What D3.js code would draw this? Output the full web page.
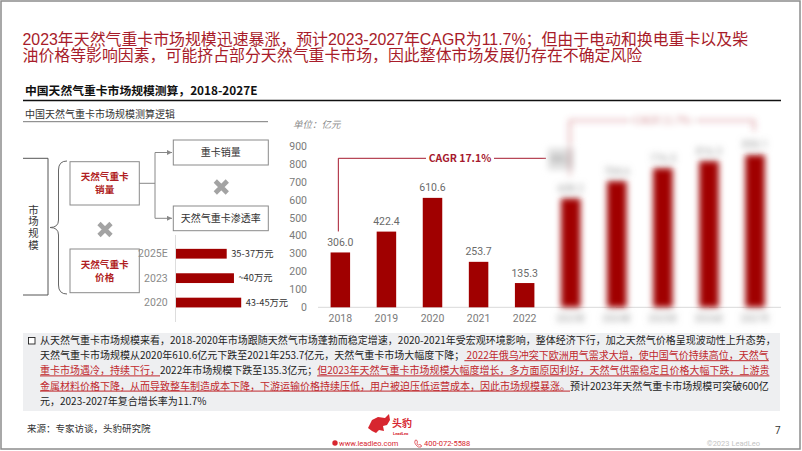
<!DOCTYPE html>
<html>
<head>
<meta charset="utf-8">
<style>
  body { margin: 0; background: #fff; position: relative; }
  svg { display: block; font-family: "Noto Sans CJK SC", "Noto Sans", sans-serif; }
  .title { position: absolute; left: 22.5px; top: 31.5px; font-family: "Liberation Sans", "Noto Sans CJK SC", sans-serif;
           font-size: 15.9px; line-height: 16.3px; color: #a81c2a; white-space: nowrap; }
</style>
</head>
<body>
<svg width="802" height="451"></svg>
<script src="https://d3js.org/d3.v7.min.js"></script>
<script>
// ---- data ----
const years = ["2018", "2019", "2020", "2021", "2022", "2023E", "2024E", "2025E", "2026E", "2027E"];
const marketSize = [306.0, 422.4, 610.6, 253.7, 135.3, 608.2, 704.6, 776.5, 816.3, 850.1];
const yTicks = [0, 100, 200, 300, 400, 500, 600, 700, 800, 900];
const priceYears = ["2025E", "2023", "2020"];
const priceValues = [35, 40, 45];
const priceLabels = ["35-37万元", "~40万元", "43-45万元"];

const titleLines = [
  "2023年天然气重卡市场规模迅速暴涨，预计2023-2027年CAGR为11.7%；但由于电动和换电重卡以及柴",
  "油价格等影响因素，可能挤占部分天然气重卡市场，因此整体市场发展仍存在不确定风险"
];
// [text, highlighted]
const noteLines = [
  [["从天然气重卡市场规模来看，2018-2020年市场跟随天然气市场蓬勃而稳定增速，2020-2021年受宏观环境影响，整体经济下行，加之天然气价格呈现波动性上升态势，", 0]],
  [["天然气重卡市场规模从2020年610.6亿元下跌至2021年253.7亿元，天然气重卡市场大幅度下降；", 0], [" 2022年俄乌冲突下欧洲用气需求大增，使中国气价持续高位，天然气", 1]],
  [["重卡市场遇冷，持续下行，", 1], ["2022年市场规模下跌至135.3亿元；", 0], ["但2023年天然气重卡市场规模大幅度增长，多方面原因利好，天然气供需稳定且价格大幅下跌，上游贵", 1]],
  [["金属材料价格下降，从而导致整车制造成本下降，下游运输价格持续压低，用户被迫压低运营成本，因此市场规模暴涨。", 1], ["预计2023年天然气重卡市场规模可突破600亿", 0]],
  [["元，2023-2027年复合增长率为11.7%", 0]]
];

const barRed = "#a00000";
const grey = "#7a7a7a";

const svg = d3.select("svg");

const defs = svg.append("defs");
defs.append("filter").attr("id", "blur")
  .attr("filterUnits", "userSpaceOnUse")
  .attr("x", 520).attr("y", 95).attr("width", 280).attr("height", 240)
  .append("feGaussianBlur").attr("stdDeviation", 3);
defs.append("marker").attr("id", "arr")
  .attr("viewBox", "0 0 6 6").attr("refX", 6).attr("refY", 3)
  .attr("markerWidth", 5).attr("markerHeight", 5).attr("orient", "auto")
  .append("path").attr("d", "M0,0L6,3L0,6Z").attr("fill", "#888");

// page frame
svg.append("rect").attr("x", 1).attr("y", 1).attr("width", 799).attr("height", 448)
  .attr("fill", "#fff").attr("stroke", "#8c8c8c").attr("stroke-width", 1.5);

// title, tight two-line block
d3.select("body").append("div").attr("class", "title")
  .html(titleLines.join("<br>"));

// section header
svg.append("text").attr("x", 25).attr("y", 95)
  .attr("font-size", 11.8).attr("font-weight", "bold").attr("fill", "#111")
  .text("中国天然气重卡市场规模测算，2018-2027E");
svg.append("line").attr("x1", 23).attr("x2", 781).attr("y1", 100.5).attr("y2", 100.5)
  .attr("stroke", "#111").attr("stroke-width", 1.4);

// ---- left: logic diagram ----
const dg = svg.append("g");
dg.append("text").attr("x", 25).attr("y", 118).attr("font-size", 10).attr("fill", "#333")
  .text("中国天然气重卡市场规模测算逻辑");
dg.append("line").attr("x1", 23).attr("x2", 268).attr("y1", 121.7).attr("y2", 121.7)
  .attr("stroke", "#555").attr("stroke-width", 0.8);

dg.append("path").attr("d", "M23,158.3H48V295H23")
  .attr("fill", "none").attr("stroke", "#555").attr("stroke-width", 1);
dg.append("path").attr("d", "M67,161Q58.5,161 58.5,170V220Q58.5,227.5 50,227.5Q58.5,227.5 58.5,235V285Q58.5,294 67,294")
  .attr("fill", "none").attr("stroke", "#666").attr("stroke-width", 1);
dg.append("text").attr("x", 33.5).attr("y", 204.5)
  .style("writing-mode", "vertical-rl").attr("letter-spacing", 1.3)
  .attr("font-size", 10.4).attr("fill", "#333").text("市场规模");

const boxes = [
  { x: 70, y: 161.7, w: 69.3, h: 43.3, lines: ["天然气重卡", "销量"], red: true },
  { x: 70, y: 249, w: 69.3, h: 43.7, lines: ["天然气重卡", "价格"], red: true },
  { x: 173.3, y: 140, w: 95, h: 25, lines: ["重卡销量"], red: false },
  { x: 173.3, y: 206, w: 95, h: 24.7, lines: ["天然气重卡渗透率"], red: false }
];
boxes.forEach(b => {
  dg.append("rect").attr("x", b.x).attr("y", b.y).attr("width", b.w).attr("height", b.h)
    .attr("fill", "#fff").attr("stroke", "#8a8a8a").attr("stroke-width", 1);
  const cy = b.y + b.h / 2;
  b.lines.forEach((t, i) => {
    dg.append("text").attr("x", b.x + b.w / 2)
      .attr("y", cy + (i - (b.lines.length - 1) / 2) * 13 + 3.5)
      .attr("text-anchor", "middle").attr("font-size", b.red ? 9.6 : 10)
      .attr("font-weight", b.red ? "bold" : "normal")
      .attr("fill", b.red ? "#b01e23" : "#333").text(t);
  });
});
dg.append("path").attr("d", "M139.3,183.3H155M155,152.5V218.3")
  .attr("fill", "none").attr("stroke", "#888").attr("stroke-width", 1);
[152.5, 218.3].forEach(y => {
  dg.append("line").attr("x1", 155).attr("x2", 172).attr("y1", y).attr("y2", y)
    .attr("stroke", "#888").attr("stroke-width", 1).attr("marker-end", "url(#arr)");
});
[[105, 229.5], [221.3, 187]].forEach(([cx, cy]) => {
  dg.append("path").attr("d", `M${cx - 6},${cy - 6}L${cx + 6},${cy + 6}M${cx + 6},${cy - 6}L${cx - 6},${cy + 6}`)
    .attr("stroke", "#a3a3a3").attr("stroke-width", 4.6).attr("stroke-linecap", "butt");
});

// price mini bars
const px = d3.scaleLinear().domain([0, 45]).range([175.5, 240.7]);
const py = d3.scaleBand().domain(priceYears).range([234.2, 322.1]).padding(0.6);
dg.append("line").attr("x1", 175.5).attr("x2", 175.5).attr("y1", 235).attr("y2", 322)
  .attr("stroke", "#ddd").attr("stroke-width", 1);
dg.selectAll(".pbar").data(priceValues).enter().append("rect")
  .attr("x", px(0) + 0.5).attr("y", (d, i) => py(priceYears[i]))
  .attr("width", d => px(d) - px(0)).attr("height", py.bandwidth())
  .attr("fill", barRed);
dg.selectAll(".pyr").data(priceYears).enter().append("text")
  .attr("x", 167.7).attr("y", d => py(d) + py.bandwidth() / 2).attr("dy", "0.35em")
  .attr("text-anchor", "end").attr("font-size", 10.5).attr("fill", "#8a8a8a")
  .attr("font-family", "Roboto, sans-serif").text(d => d);
dg.selectAll(".plab").data(priceValues).enter().append("text")
  .attr("x", d => px(d) + 5).attr("y", (d, i) => py(priceYears[i]) + py.bandwidth() / 2)
  .attr("dy", "0.35em").attr("font-size", 9.3).attr("fill", "#333")
  .text((d, i) => priceLabels[i]);

// ---- right: bar chart ----
const x = d3.scalePoint().domain(years).range([317.3, 778.1]).padding(0.5);
const y = d3.scaleLinear().domain([0, 900]).range([307.3, 146]);
const barW = 19.5;
const nSharp = 5;

svg.append("text").attr("x", 293).attr("y", 128).attr("font-size", 9.5)
  .attr("font-style", "italic").attr("fill", "#8a8a8a").text("单位：亿元");

const yAxis = svg.append("g").attr("transform", "translate(307,0)")
  .call(d3.axisLeft(y).tickValues(yTicks).tickSize(0).tickPadding(0));
yAxis.select(".domain").remove();
yAxis.selectAll("text").attr("font-size", 10.5).attr("fill", grey)
  .attr("font-family", "Roboto, sans-serif");

svg.append("line").attr("x1", 318).attr("x2", 781).attr("y1", y(0)).attr("y2", y(0))
  .attr("stroke", "#d9d9d9").attr("stroke-width", 1);

function drawBars(g, idx) {
  g.selectAll(".bar").data(idx).enter().append("rect")
    .attr("x", i => x(years[i]) - barW / 2).attr("y", i => y(marketSize[i]))
    .attr("width", barW).attr("height", i => y(0) - y(marketSize[i]))
    .attr("fill", barRed);
  g.selectAll(".val").data(idx).enter().append("text")
    .attr("x", i => x(years[i])).attr("y", i => y(marketSize[i]) - 6.5)
    .attr("text-anchor", "middle").attr("font-size", 10.5).attr("fill", "#6a6a6a")
    .attr("font-family", "Roboto, sans-serif")
    .text(i => marketSize[i].toFixed(1));
  g.selectAll(".yr").data(idx).enter().append("text")
    .attr("x", i => x(years[i])).attr("y", 322)
    .attr("text-anchor", "middle").attr("font-size", 10.5).attr("fill", grey)
    .attr("font-family", "Roboto, sans-serif")
    .text(i => years[i]);
}

const sharp = svg.append("g");
drawBars(sharp, d3.range(0, nSharp));
// CAGR 17.1% bracket
sharp.append("path").attr("d", `M${x(years[0]) - 2},${y(marketSize[0]) - 21}V158.3H546`)
  .attr("fill", "none").attr("stroke", "#a6192e").attr("stroke-width", 1);
sharp.append("rect").attr("x", 426).attr("y", 151).attr("width", 68).attr("height", 15).attr("fill", "#fff");
sharp.append("text").attr("x", 460).attr("y", 162.3).attr("text-anchor", "middle")
  .attr("font-size", 10.5).attr("font-weight", "bold").attr("fill", "#a6192e")
  .text("CAGR 17.1%");

// forecast part, blurred as in the source
const blurred = svg.append("g").attr("filter", "url(#blur)");
drawBars(blurred, d3.range(nSharp, years.length));
blurred.selectAll("text").attr("fill", "#9a9a9a");
blurred.append("rect").attr("x", 548).attr("y", 148).attr("width", 26).attr("height", 22)
  .attr("fill", "#e0e0e0");
blurred.append("text").attr("x", 561).attr("y", 162).attr("text-anchor", "middle")
  .attr("font-size", 8.5).attr("fill", "#888").text(marketSize[nSharp].toFixed(1));
blurred.append("path").attr("d", `M${x(years[5]) - 1},176V120.5H${x(years[9]) - 1}V131`)
  .attr("fill", "none").attr("stroke", "#c0505a").attr("stroke-width", 1.1);
blurred.append("rect").attr("x", 633).attr("y", 113).attr("width", 60).attr("height", 15).attr("fill", "#fff");
blurred.append("text").attr("x", 662).attr("y", 124).attr("text-anchor", "middle")
  .attr("font-size", 10).attr("fill", "#cc6a72").text("CAGR 11.7%");

// ---- note box ----
svg.append("rect").attr("x", 23).attr("y", 333).attr("width", 757).attr("height", 78)
  .attr("fill", "#eeeff1");
svg.append("rect").attr("x", 28.5).attr("y", 337.5).attr("width", 6.5).attr("height", 6.5)
  .attr("fill", "#fff").attr("stroke", "#222").attr("stroke-width", 0.9);
const note = svg.selectAll(".note").data(noteLines).enter().append("text")
  .attr("x", 40).attr("y", (d, i) => 344 + i * 15.2)
  .attr("font-size", 10).attr("fill", "#222");
note.selectAll("tspan").data(d => d).enter().append("tspan")
  .attr("fill", d => d[1] ? "#c0282d" : "#222")
  .style("text-decoration", d => d[1] ? "underline" : "none")
  .text(d => d[0]);

// ---- footer ----
svg.append("text").attr("x", 27).attr("y", 432).attr("font-size", 9.5).attr("fill", "#333")
  .text("来源：专家访谈，头豹研究院");
svg.append("text").attr("x", 775).attr("y", 434).attr("font-size", 10).attr("fill", "#333")
  .attr("font-family", "Roboto, sans-serif").text("7");
svg.append("text").attr("x", 760).attr("y", 446).attr("text-anchor", "end")
  .attr("font-size", 7.5).attr("fill", "#c4c4c4").attr("font-family", "Roboto, sans-serif")
  .text("©2023 LeadLeo");
const logo = svg.append("g");
logo.append("path")
  .attr("d", "M368,428 L372,420 L378,417 L385,418 L389,414 L390,420 L387,425 L383,426 L384,431 L379,430 L376,433 L372,431Z")
  .attr("fill", "#d7262f");
logo.append("text").attr("x", 392).attr("y", 427).attr("font-size", 10).attr("font-weight", "bold")
  .attr("fill", "#d7262f").text("头豹");
logo.append("text").attr("x", 393).attr("y", 434.5).attr("font-size", 4).attr("font-weight", "bold")
  .attr("fill", "#d7262f").attr("font-family", "Roboto, sans-serif").text("LeadLeo");
logo.append("circle").attr("cx", 335).attr("cy", 443).attr("r", 2.7).attr("fill", "#d7262f");
logo.append("text").attr("x", 339).attr("y", 446).attr("font-size", 7.5).attr("fill", "#d7262f")
  .attr("font-family", "Roboto, sans-serif").text("www.leadleo.com");
logo.append("path").attr("d", "M415,440.5q1,-1 2,0l0.5,1.5q-1,1 0,2.5q1,1 2,0l1.5,0.5q1,1 0,2q-3,1 -5,-2q-2,-2 -1,-4.5z")
  .attr("fill", "none").attr("stroke", "#d7262f").attr("stroke-width", 0.7);
logo.append("text").attr("x", 424).attr("y", 446).attr("font-size", 7.5).attr("fill", "#d7262f")
  .attr("font-family", "Roboto, sans-serif").text("400-072-5588");
</script>
</body>
</html>
